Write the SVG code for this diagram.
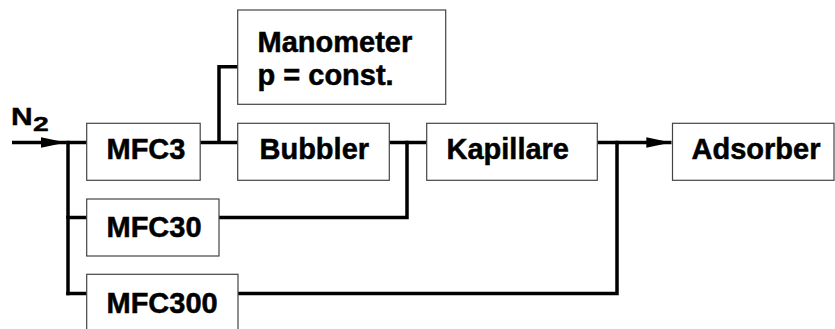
<svg xmlns="http://www.w3.org/2000/svg" width="835" height="329" viewBox="0 0 835 329">
<defs>
<style>
.box{fill:#fff;stroke:#444;stroke-width:1.2}
.lbl{font-family:"Liberation Sans",Arial,Helvetica,sans-serif;font-weight:bold;font-size:29px;fill:#000;stroke:#000;stroke-width:0.5}
.sm{font-family:"Liberation Sans",Arial,Helvetica,sans-serif;font-weight:bold;font-size:24px;fill:#000;stroke:#000;stroke-width:0.4}
.sub{font-family:"Liberation Sans",Arial,Helvetica,sans-serif;font-weight:bold;font-size:21px;fill:#000;stroke:#000;stroke-width:0.4}
.ln{fill:none;stroke:#000;stroke-width:3.5;stroke-linejoin:miter;stroke-linecap:butt}
</style>
<marker id="arr" viewBox="0 0 10 10" refX="10" refY="5" markerWidth="7.2" markerHeight="3" markerUnits="strokeWidth" orient="auto" preserveAspectRatio="none">
<path d="M0,0 L10,5 L0,10 z" fill="#000"/>
</marker>
</defs>
<rect width="835" height="329" fill="#fff"/>
<g id="connectors">
<line class="ln" x1="12" y1="142.5" x2="66" y2="142.5" marker-end="url(#arr)"/>
<line class="ln" x1="68" y1="140.75" x2="68" y2="295.25"/>
<line class="ln" x1="66.25" y1="142.5" x2="87" y2="142.5"/>
<line class="ln" x1="200" y1="142.5" x2="238" y2="142.5"/>
<polyline class="ln" points="219,142.5 219,66.75 238,66.75"/>
<line class="ln" x1="389" y1="142.5" x2="427" y2="142.5"/>
<polyline class="ln" points="407,140.75 407,217.5 219,217.5"/>
<line class="ln" x1="66.25" y1="217.5" x2="87" y2="217.5"/>
<line class="ln" x1="66.25" y1="293.5" x2="87" y2="293.5"/>
<polyline class="ln" points="238,293.5 617,293.5 617,140.75"/>
<line class="ln" x1="597" y1="142.5" x2="671.5" y2="142.5" marker-end="url(#arr)"/>
</g>
<g id="n2-label">
<text class="sm" transform="translate(11,124.5) scale(1.25,1)">N</text>
<text class="sub" transform="translate(33,131) scale(1.35,1)">2</text>
</g>
<g id="manometer">
<rect class="box" x="237.7" y="10" width="208" height="94.3"/>
<text class="lbl" x="257.5" y="51.5">Manometer</text>
<text class="lbl" x="257.5" y="85">p = const.</text>
</g>
<g id="mfc3">
<rect class="box" x="86.7" y="123.3" width="113.5" height="57"/>
<text class="lbl" x="106.5" y="159.3">MFC3</text>
</g>
<g id="bubbler">
<rect class="box" x="237.7" y="123.3" width="151.6" height="57"/>
<text class="lbl" x="259.5" y="159.3">Bubbler</text>
</g>
<g id="kapillare">
<rect class="box" x="426.7" y="123.3" width="170.6" height="57"/>
<text class="lbl" x="446.5" y="159.3">Kapillare</text>
</g>
<g id="adsorber">
<rect class="box" x="672.5" y="123.3" width="161.5" height="57"/>
<text class="lbl" x="691.5" y="159.3">Adsorber</text>
</g>
<g id="mfc30">
<rect class="box" x="86.7" y="199" width="132.3" height="57"/>
<text class="lbl" x="106.5" y="236.5">MFC30</text>
</g>
<g id="mfc300">
<rect class="box" x="86.7" y="274.3" width="151.3" height="57"/>
<text class="lbl" x="106.5" y="313">MFC300</text>
</g>
</svg>
